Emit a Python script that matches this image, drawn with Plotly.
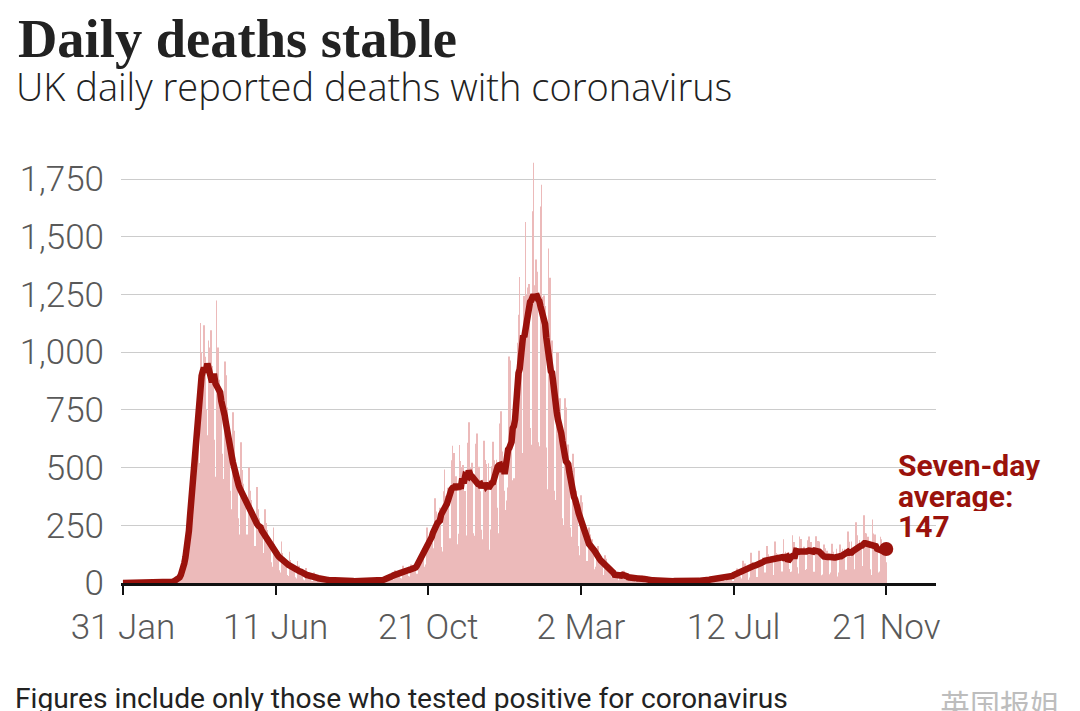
import pandas as pd
import plotly.graph_objects as go

# ---------------- data ----------------
start_date = "2020-01-31"

# daily reported deaths, 31 Jan 2020 - 31 Dec 2020 (rows are Fri..Thu weeks)
deaths_2020 = [
    0, 0, 0, 0, 0, 0, 0,
    0, 0, 0, 0, 0, 0, 0,
    0, 0, 0, 0, 0, 0, 0,
    0, 0, 0, 0, 0, 0, 0,
    0, 0, 0, 0, 0, 0, 0,
    1, 1, 1, 0, 2, 1, 3,
    3, 4, 6, 8, 12, 15, 18,
    22, 28, 32, 45, 80, 100, 130,
    180, 210, 220, 260, 480, 560, 600,
    700, 760, 620, 520, 1126, 1000, 920,
    1117, 980, 750, 640, 1050, 1020, 1095,
    940, 900, 620, 460, 1224, 1020, 880,
    850, 800, 560, 450, 960, 900, 760,
    640, 580, 400, 320, 740, 660, 520,
    450, 400, 280, 210, 610, 490, 430,
    370, 330, 210, 160, 500, 400, 360,
    290, 260, 160, 120, 416, 320, 280,
    230, 210, 130, 100, 320, 260, 230,
    170, 150, 90, 70, 240, 170, 150,
    120, 110, 55, 45, 180, 130, 110,
    90, 80, 35, 30, 135, 100, 80,
    65, 55, 25, 20, 95, 75, 60,
    45, 40, 15, 12, 65, 50, 40,
    30, 28, 10, 8, 45, 32, 27,
    22, 18, 7, 6, 30, 20, 16,
    16, 13, 5, 4, 25, 16, 12,
    12, 10, 4, 3, 20, 13, 10,
    11, 9, 3, 3, 18, 12, 9,
    10, 8, 3, 2, 16, 10, 8,
    9, 8, 2, 3, 15, 11, 9,
    10, 9, 2, 3, 16, 12, 10,
    12, 10, 3, 4, 20, 14, 13,
    15, 13, 6, 6, 27, 25, 22,
    32, 30, 17, 14, 55, 44, 40,
    48, 44, 22, 20, 75, 62, 65,
    60, 55, 30, 28, 80, 75, 76,
    70, 65, 40, 35, 110, 120, 140,
    150, 135, 70, 80, 240, 190, 190,
    224, 174, 151, 102, 367, 310, 280,
    280, 326, 156, 136, 397, 492, 378,
    355, 413, 162, 194, 532, 595, 563,
    376, 462, 168, 213, 598, 529, 501,
    511, 341, 398, 206, 608, 696, 498,
    479, 521, 215, 205, 603, 648, 414,
    504, 397, 231, 189, 616, 533, 516,
    424, 519, 144, 232, 506, 612, 532,
    489, 534, 326, 215, 691, 744, 570,
    500, 400, 316, 357, 414, 981, 964,
]

# daily reported deaths, 1 Jan 2021 - 21 Nov 2021
deaths_2021 = [
    613, 445, 454, 407, 830, 1041, 1162,
    1325, 1035, 563, 529, 1243, 1564, 1248,
    1280, 1295, 671, 599, 1610, 1820, 1290,
    1401, 1348, 610, 592, 1631, 1725, 1239,
    1245, 1200, 587, 406, 1449, 1322, 915,
    1050, 880, 400, 360, 1000, 1000, 760,
    800, 650, 280, 250, 800, 760, 500,
    600, 500, 240, 200, 560, 500, 380,
    400, 330, 160, 120, 380, 350, 270,
    260, 180, 95, 75, 240, 210, 190,
    190, 140, 60, 70, 150, 160, 110,
    110, 100, 35, 20, 120, 105, 80,
    70, 72, 20, 25, 60, 50, 55,
    30, 12, 10, 26, 40, 45, 53,
    40, 34, 7, 13, 23, 33, 22,
    30, 30, 4, 8, 30, 27, 20,
    18, 32, 10, 4, 17, 29, 11,
    15, 15, 1, 1, 26, 13, 12,
    11, 6, 2, 4, 11, 9, 17,
    17, 7, 4, 1, 9, 11, 10,
    8, 5, 5, 4, 15, 9, 10,
    10, 6, 0, 2, 15, 12, 10,
    11, 7, 4, 3, 13, 7, 13,
    12, 10, 6, 5, 12, 13, 11,
    14, 10, 6, 5, 27, 19, 16,
    21, 15, 8, 6, 27, 22, 24,
    25, 18, 9, 9, 37, 33, 35,
    34, 34, 6, 6, 50, 49, 63,
    51, 41, 28, 19, 96, 73, 84,
    49, 65, 14, 24, 131, 91, 86,
    90, 78, 26, 24, 140, 100, 100,
    110, 100, 45, 30, 160, 125, 110,
    115, 105, 35, 30, 180, 130, 125,
    120, 110, 45, 50, 190, 130, 135,
    100, 133, 61, 48, 50, 207, 178,
    121, 156, 68, 41, 201, 191, 147,
    147, 157, 56, 61, 185, 201, 148,
    178, 156, 49, 49, 203, 167, 182,
    180, 148, 34, 37, 167, 150, 127,
    140, 125, 38, 45, 170, 135, 120,
    127, 148, 28, 45, 167, 136, 148,
    138, 148, 57, 45, 223, 179, 115,
    180, 120, 45, 60, 263, 207, 160,
    186, 166, 74, 40, 293, 217, 214,
    200, 165, 60, 35, 275, 214, 210,
    160, 160, 45, 50, 200, 190, 170,
    165, 163, 90,
]

tick_dates = ["2020-01-31", "2020-06-11", "2020-10-21", "2021-03-02", "2021-07-12", "2021-11-21"]
tick_labels = ["31 Jan", "11 Jun", "21 Oct", "2 Mar", "12 Jul", "21 Nov"]
y_ticks = [0, 250, 500, 750, 1000, 1250, 1500, 1750]
y_tick_labels = ["0", "250", "500", "750", "1,000", "1,250", "1,500", "1,750"]

title_text = "Daily deaths stable"
subtitle_text = "UK daily reported deaths with coronavirus"
footer_text = "Figures include only those who tested positive for coronavirus"
label_lines = ["Seven-day", "average:"]
watermark_text = "英国报姐"

# ---------------- derived series ----------------
deaths = pd.Series(deaths_2020 + deaths_2021, dtype=float)
dates = pd.date_range(start_date, periods=len(deaths), freq="D")
avg7 = deaths.rolling(7, center=True, min_periods=1).mean()
last_avg = int(round(avg7.iloc[-1]))

# ---------------- styling ----------------
OFF = 8                      # page body margin in the browser
PW, PH = 1080, 711           # visible page size
W, H = PW - OFF, PH - OFF    # figure size
# plot area in page pixels
L, R, T, B = 118, 936, 160, 583
BAR = "#ecbaba"
RED = "#9a120c"
GREY = "#595959"
SANS = "Roboto, 'Open Sans', sans-serif"
SANS2 = "'Open Sans', Roboto, sans-serif"
SERIF = "'Liberation Serif', 'DejaVu Serif', serif"


def px(x):
    return (x - L) / (R - L)


def py(y):
    return (B - y) / (B - T)


x0 = pd.Timestamp(start_date)
x_range = [x0 - pd.Timedelta(hours=41), x0 + pd.Timedelta(days=703)]
ymax = 1750 * (B - T) / (B - 179)

fig = go.Figure()
fig.add_trace(go.Bar(x=dates, y=deaths, marker=dict(color=BAR, line=dict(width=0)),
                     hoverinfo="skip", showlegend=False))
fig.add_trace(go.Scatter(x=dates, y=avg7, mode="lines",
                         line=dict(color=RED, width=6.5, shape="linear"),
                         showlegend=False, hoverinfo="skip"))
fig.add_trace(go.Scatter(x=[dates[-1]], y=[avg7.iloc[-1]], mode="markers",
                         marker=dict(color=RED, size=14), showlegend=False, hoverinfo="skip"))

ann = []
ann.append(dict(text=title_text, x=px(13), y=py(38), xanchor="left", yanchor="middle",
                font=dict(family=SERIF, size=54.5, color="#222222", weight=700)))
ann.append(dict(text=subtitle_text, x=px(11), y=py(86), xanchor="left", yanchor="middle",
                font=dict(family=SANS2, size=38, color="#222222", weight=300)))
for i, t in enumerate(label_lines + [str(last_avg)]):
    ann.append(dict(text=t, x=px(896), y=py(465 + 30.5 * i), xanchor="left", yanchor="middle",
                    height=30, valign="middle",
                    font=dict(family=SANS, size=30, color=RED, weight=700)))
ann.append(dict(text=footer_text, x=px(10), y=py(698), xanchor="left", yanchor="middle",
                font=dict(family=SANS, size=28.2, color="#222222", weight=400)))
ann.append(dict(text=watermark_text, x=px(938), y=py(703), xanchor="left", yanchor="middle",
                font=dict(family="'Noto Sans CJK SC', sans-serif", size=30, color="#bdbdbd")))
for a in ann:
    a.update(xref="paper", yref="paper", showarrow=False)

fig.update_layout(
    width=W, height=H,
    margin=dict(l=L - OFF, r=PW - R, t=T - OFF, b=PH - B, pad=0),
    paper_bgcolor="white", plot_bgcolor="white",
    bargap=0.45,
    annotations=ann,
    xaxis=dict(type="date", range=x_range, tickvals=tick_dates, ticktext=tick_labels,
               showgrid=False, zeroline=False, showline=True, linecolor="#111111", linewidth=3,
               ticks="outside", ticklen=9, tickwidth=2, tickcolor="#111111",
               tickfont=dict(family=SANS, size=35, color=GREY, weight=300), ticklabelstandoff=2),
    yaxis=dict(range=[0, ymax], tickvals=y_ticks, ticktext=y_tick_labels,
               showgrid=True, gridcolor="#cccccc", gridwidth=1.3, zeroline=False, showline=False,
               ticks="", tickfont=dict(family=SANS, size=35, color=GREY, weight=300),
               ticklabelstandoff=16),
)

fig.write_html("out.html")
